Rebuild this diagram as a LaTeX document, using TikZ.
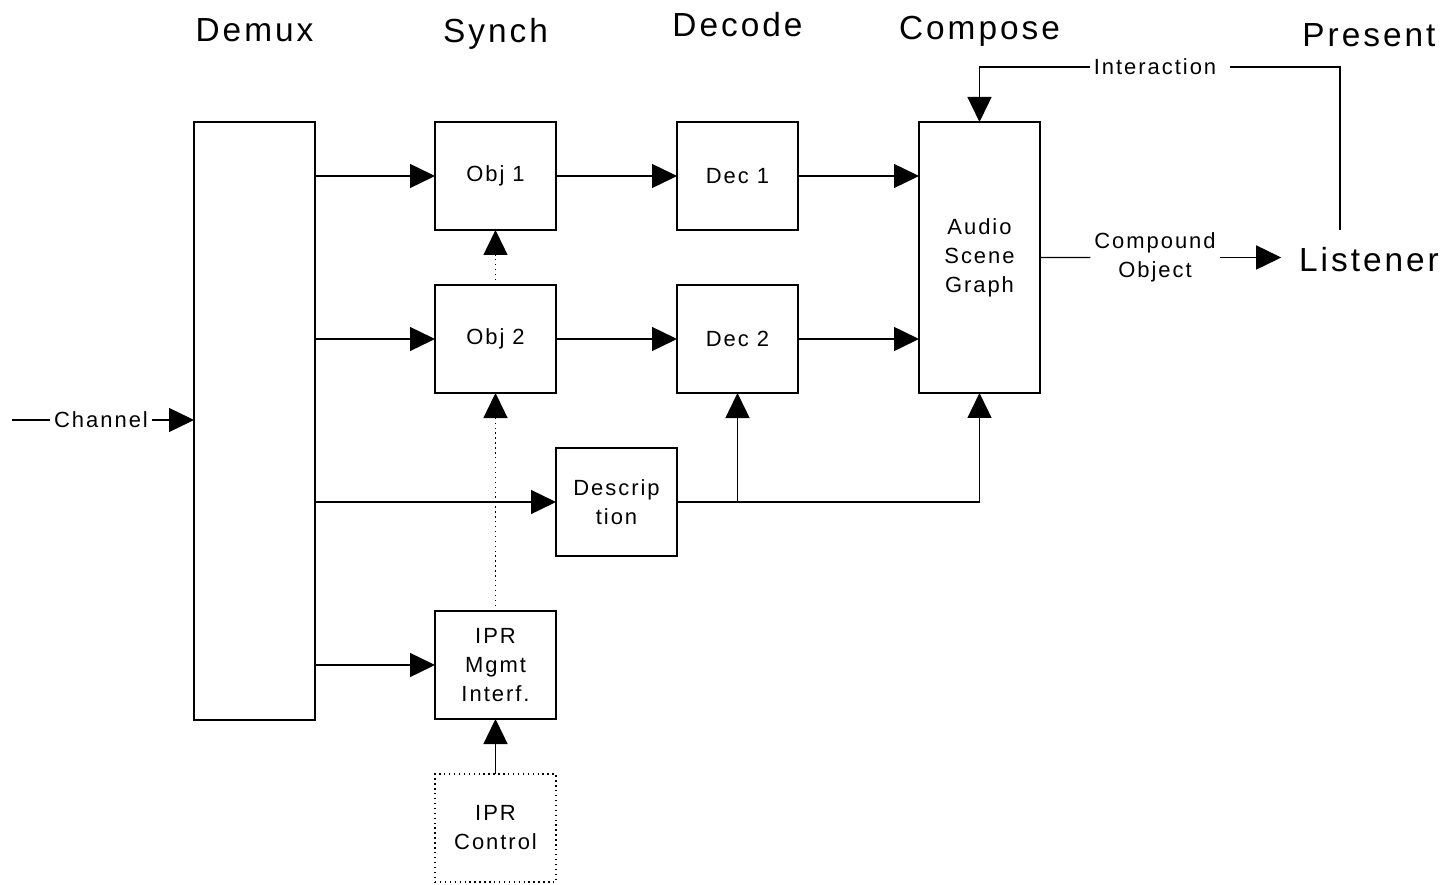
\documentclass[tikz,border=0pt]{standalone}
\usepackage{fontspec}
\setmainfont{Liberation Sans}[LetterSpace=9]
\usetikzlibrary{arrows.meta,positioning}

\begin{document}
\begin{tikzpicture}[
    node distance=1.1cm and 2.42cm,
    box/.style={draw, line width=0.8pt, minimum width=2.42cm, minimum height=2.16cm, inner sep=0pt, outer sep=0pt, align=center, font=\fontsize{12.5}{16.5}\selectfont},
    lbl/.style={inner sep=2pt, align=center, font=\fontsize{12.5}{16.5}\selectfont},
    hdr/.style={inner sep=0pt, font=\fontsize{19}{23}\selectfont},
    arr/.style={-{Triangle[length=0.5cm, width=0.48cm]}, line width=0.8pt},
  ]
    \useasboundingbox (0,0) rectangle (28.88,-17.7);
    % processing chain
    \node[box] (obj1) at (9.91,-3.52) {Obj 1};
    \node[box, below=of obj1] (obj2) {Obj 2};
    \node[box, right=of obj1] (dec1) {Dec 1};
    \node[box, right=of obj2] (dec2) {Dec 2};
    \node[box, below right=1.1cm and 0cm of obj2] (desc) {Descrip\\tion};
    \node[box, below left=1.1cm and 0cm of desc] (ipr) {IPR\\Mgmt\\Interf.};
    \node[box, dotted, below=of ipr] (iprc) {IPR\\Control};
    \node[box, minimum height=11.96cm, left=2.4cm of obj1.north west, anchor=north east] (demux) {};
    \node[box, minimum height=5.42cm, right=2.42cm of dec1.north east, anchor=north west] (comp) {Audio\\Scene\\Graph};
    \node[hdr, inner sep=0.35cm] (lis) at (27.38,-5.2) {Listener};
    \node[lbl] (cobj) at (23.1,-5.15) {Compound\\Object};
    \node[lbl] (inter) at (23.1,-1.34) {Interaction};
    \node[lbl] (chan) at (2.02,-8.4) {Channel};
    \coordinate (cin) at (0.24,-8.4);
    % column titles
    \node[hdr, above=1.6cm of demux.north, anchor=base] (hdemux) {Demux};
    \node[hdr, above=1.58cm of obj1.north, anchor=base] (hsynch) {Synch};
    \node[hdr, above=1.7cm of dec1.north, anchor=base] (hdecode) {Decode};
    \node[hdr, above=1.64cm of comp.north, anchor=base] (hcompose) {Compose};
    \node[hdr, above=4.5cm of lis.base, anchor=base] (hpresent) {Present};
    % connections
    \draw[line width=0.8pt] (cin) -- (chan);
    \draw[arr] (chan) -- (chan -| demux.west);
    \draw[arr] (demux.east |- obj1) -- (obj1);
    \draw[arr] (demux.east |- obj2) -- (obj2);
    \draw[arr] (demux.east |- desc) -- (desc);
    \draw[arr] (demux.east |- ipr) -- (ipr);
    \draw[arr] (obj1) -- (dec1);
    \draw[arr] (obj2) -- (dec2);
    \draw[arr] (dec1) -- (dec1 -| comp.west);
    \draw[arr] (dec2) -- (dec2 -| comp.west);
    \draw[arr, dotted] (obj2) -- (obj1);
    \draw[arr, dotted] (ipr) -- (obj2);
    \draw[arr] (iprc) -- (ipr);
    \draw[arr] (desc.east) -| (dec2.south);
    \draw[arr] (desc.east) -| (comp.south);
    \draw[line width=0.8pt] (comp.east) -- (cobj);
    \draw[arr] (cobj) -- (cobj -| lis.west);
    \draw[line width=0.8pt] ([xshift=-0.58cm]lis.north) |- ([xshift=0.2cm]inter.east);
    \draw[arr] (inter) -| (comp.north);
  \end{tikzpicture}
\end{document}
